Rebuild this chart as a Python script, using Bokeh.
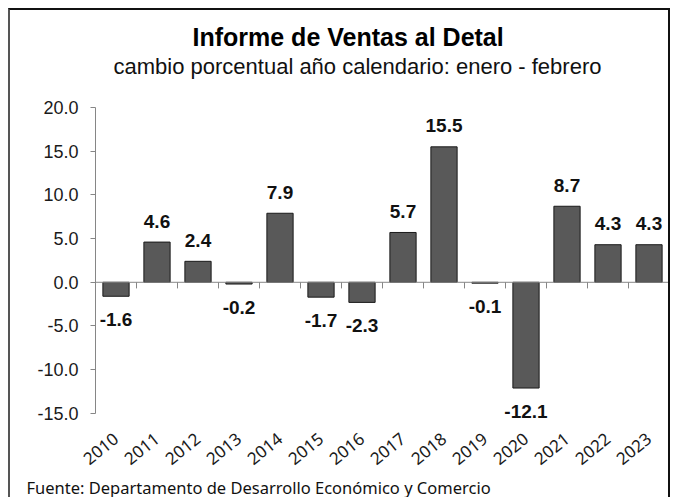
from bokeh.plotting import figure
from bokeh.models import (Range1d, FixedTicker, NumeralTickFormatter, Title,
                          ColumnDataSource, Span, InlineStyleSheet)
from bokeh.core.properties import value
from bokeh.embed import file_html
from bokeh.resources import INLINE

# ---- data ----
years = ["2010", "2011", "2012", "2013", "2014", "2015", "2016",
         "2017", "2018", "2019", "2020", "2021", "2022", "2023"]
changes = [-1.6, 4.6, 2.4, -0.2, 7.9, -1.7, -2.3, 5.7, 15.5, -0.1, -12.1, 8.7, 4.3, 4.3]
y_ticks = [-15, -10, -5, 0, 5, 10, 15, 20]
title_text = "Informe  de Ventas  al Detal"
subtitle_text = "cambio porcentual año calendario: enero - febrero"
source_text = "Fuente: Departamento de Desarrollo Económico y Comercio"

xs = list(range(len(years)))
labels = ["%.1f" % v for v in changes]

p = figure(width=662, height=489,
           x_range=Range1d(-0.5, len(years) - 0.5),
           y_range=Range1d(min(y_ticks) - 1.5, max(y_ticks)),
           output_backend="svg", toolbar_location=None,
           min_border_left=85, min_border_right=3,
           min_border_top=97, min_border_bottom=73)
p.stylesheets = [InlineStyleSheet(css=":host { margin-left: 8px; margin-top: 8px; "
                                      "border-top: 2px solid #111111; "
                                      "border-left: 2px solid #555555; "
                                      "border-right: 2px solid #111111; } "
                                      "svg text { white-space: pre; }")]
p.background_fill_color = "white"
p.border_fill_color = "white"
p.outline_line_color = None
p.xgrid.visible = False
p.ygrid.visible = False

# zero line with category boundary ticks
p.add_layout(Span(location=0, dimension="width", line_color="#868686", line_width=1))
bounds = [i - 0.5 for i in range(len(years) + 1)]
p.segment(x0=bounds, y0=[0] * len(bounds), x1=bounds, y1=[-0.7] * len(bounds),
          line_color="#868686", line_width=1)

src = ColumnDataSource(dict(x=xs, top=changes, label=labels))
p.vbar(x="x", top="top", bottom=0, width=0.64, source=src,
       fill_color="#595959", line_color="#1a1a1a", line_width=1)

pos = ColumnDataSource(dict(x=[x for x, v in zip(xs, changes) if v >= 0],
                            y=[v for v in changes if v >= 0],
                            t=[l for l, v in zip(labels, changes) if v >= 0]))
neg = ColumnDataSource(dict(x=[x for x, v in zip(xs, changes) if v < 0],
                            y=[v for v in changes if v < 0],
                            t=[l for l, v in zip(labels, changes) if v < 0]))
common = dict(text="t", text_font=value("Liberation Sans"), text_font_style="bold",
              text_font_size="19px", text_align="center", text_baseline="alphabetic",
              text_color="#111111")
p.text(x="x", y="y", source=pos, y_offset=-21, **common)
p.text(x="x", y="y", source=neg, y_offset=23, **common)

# y axis
yax = p.yaxis[0]
yax.ticker = FixedTicker(ticks=y_ticks)
yax.bounds = (min(y_ticks), max(y_ticks))
yax.formatter = NumeralTickFormatter(format="0.0")
yax.axis_line_color = "#868686"
yax.major_tick_line_color = "#868686"
yax.major_tick_out = 5
yax.major_tick_in = 0
yax.minor_tick_line_color = None
yax.major_label_standoff = 12
yax.major_label_text_font = "Liberation Sans"
yax.major_label_text_font_size = "18px"
yax.major_label_text_color = "#1a1a1a"

# x axis
xax = p.xaxis[0]
xax.ticker = FixedTicker(ticks=xs)
xax.major_label_overrides = {i: y for i, y in zip(xs, years)}
xax.axis_line_color = None
xax.major_tick_line_color = None
xax.minor_tick_line_color = None
xax.major_tick_out = 0
xax.major_tick_in = 0
xax.major_label_orientation = 0.68
xax.major_label_standoff = 10
xax.major_label_text_font = "Noto Sans"
xax.major_label_text_font_size = "17px"
xax.major_label_text_color = "#1a1a1a"

# titles
sub = Title(text=subtitle_text, align="left", offset=18,
            text_font="Liberation Sans", text_font_size="22px",
            text_font_style="normal", text_color="#111111", standoff=57)
main = Title(text=title_text, align="left", offset=97,
             text_font="Liberation Sans", text_font_size="25px",
             text_font_style="bold", text_color="#000000", standoff=-55)
p.add_layout(sub, "above")
p.add_layout(main, "above")

foot = Title(text=source_text, align="left", offset=-69,
             text_font="Noto Sans", text_font_size="16.5px",
             text_font_style="normal", text_color="#111111", standoff=0)
p.add_layout(foot, "below")

open("out.html", "w").write(file_html(p, INLINE))
